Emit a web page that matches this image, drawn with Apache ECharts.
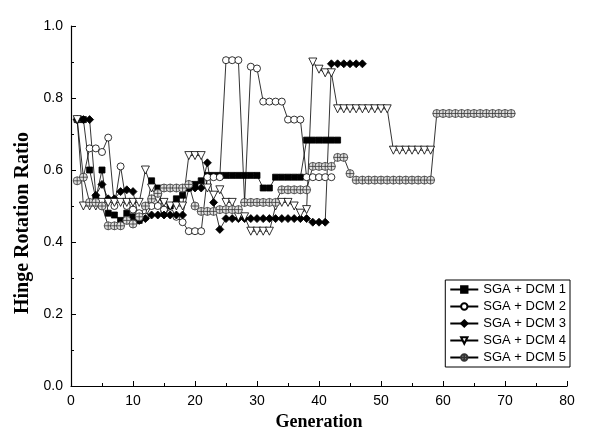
<!DOCTYPE html>
<html>
<head>
<meta charset="utf-8">
<script src="https://cdn.jsdelivr.net/npm/echarts@6/dist/echarts.min.js"></script>
<style>
  html, body { margin: 0; padding: 0; background: #fff; }
  #chart { width: 592px; height: 441px; }
</style>
</head>
<body>
<div id="chart"></div>
<script>
// series names (legend)
var names = ["SGA + DCM 1", "SGA + DCM 2", "SGA + DCM 3", "SGA + DCM 4", "SGA + DCM 5"];

// hinge rotation ratio per generation, generation 1..N
var dcm1 = [0.74, 0.74, 0.60, 0.52, 0.60, 0.48, 0.475, 0.46, 0.48, 0.47,
  0.46, 0.47, 0.57, 0.55, 0.48, 0.50, 0.52, 0.53, 0.55, 0.56,
  0.57, 0.585, 0.585, 0.585, 0.585, 0.585, 0.585, 0.585, 0.585, 0.585,
  0.55, 0.55, 0.58, 0.58, 0.58, 0.58, 0.58, 0.683, 0.683, 0.683,
  0.683, 0.683, 0.683];
var dcm2 = [0.74, 0.58, 0.66, 0.66, 0.65, 0.69, 0.50, 0.61, 0.50, 0.49,
  0.48, 0.47, 0.50, 0.50, 0.49, 0.48, 0.47, 0.455, 0.43, 0.43,
  0.43, 0.58, 0.58, 0.58, 0.905, 0.905, 0.905, 0.51, 0.887, 0.882,
  0.79, 0.79, 0.79, 0.79, 0.74, 0.74, 0.74, 0.58, 0.58, 0.58,
  0.58, 0.58];
var dcm3 = [0.74, 0.74, 0.74, 0.53, 0.56, 0.52, 0.52, 0.54, 0.545, 0.54,
  0.46, 0.465, 0.475, 0.475, 0.475, 0.475, 0.475, 0.475, 0.55, 0.55,
  0.55, 0.62, 0.51, 0.435, 0.465, 0.465, 0.465, 0.465, 0.465, 0.465,
  0.465, 0.465, 0.465, 0.465, 0.465, 0.465, 0.465, 0.465, 0.455, 0.455,
  0.455, 0.895, 0.895, 0.895, 0.895, 0.895, 0.895];
var dcm4 = [0.74, 0.50, 0.50, 0.50, 0.51, 0.51, 0.51, 0.51, 0.51, 0.51,
  0.51, 0.60, 0.55, 0.52, 0.51, 0.50, 0.50, 0.50, 0.64, 0.64,
  0.64, 0.55, 0.53, 0.545, 0.51, 0.51, 0.47, 0.47, 0.43, 0.43,
  0.43, 0.43, 0.50, 0.51, 0.51, 0.50, 0.48, 0.49, 0.90, 0.88,
  0.87, 0.87, 0.77, 0.77, 0.77, 0.77, 0.77, 0.77, 0.77, 0.77,
  0.77, 0.655, 0.655, 0.655, 0.655, 0.655, 0.655, 0.655];
var dcm5 = [0.57, 0.58, 0.51, 0.51, 0.50, 0.445, 0.445, 0.445, 0.46, 0.45,
  0.47, 0.50, 0.52, 0.535, 0.55, 0.55, 0.55, 0.55, 0.56, 0.50,
  0.485, 0.485, 0.485, 0.49, 0.49, 0.49, 0.49, 0.51, 0.51, 0.51,
  0.51, 0.51, 0.51, 0.545, 0.545, 0.545, 0.545, 0.545, 0.61, 0.61,
  0.61, 0.61, 0.635, 0.635, 0.59, 0.572, 0.572, 0.572, 0.572, 0.572,
  0.572, 0.572, 0.572, 0.572, 0.572, 0.572, 0.572, 0.572, 0.757, 0.757,
  0.757, 0.757, 0.757, 0.757, 0.757, 0.757, 0.757, 0.757, 0.757, 0.757,
  0.757];

var xTicks = [0, 10, 20, 30, 40, 50, 60, 70, 80];
var yTicks = [0.0, 0.2, 0.4, 0.6, 0.8, 1.0];

// [generation, value] pairs
function toPairs(arr) {
  return arr.map(function (v, i) { return [i + 1, v]; });
}

var crossCircle = "path://M5,0A5,5,0,1,1,-5,0A5,5,0,1,1,5,0ZM0,-5L0,5M-5,0L5,0";

var chart = echarts.init(document.getElementById("chart"), null, { renderer: "canvas" });

function lineSeries(name, data, symbol, size, fill, stroke, extra) {
  var s = {
    name: name,
    type: "line",
    data: toPairs(data),
    symbol: symbol,
    symbolSize: size,
    showAllSymbol: true,
    lineStyle: { color: "#000", width: 0.8 },
    itemStyle: { color: fill, borderColor: stroke, borderWidth: 0.8 },
    emphasis: { disabled: true },
    z: 2
  };
  for (var k in extra) s[k] = extra[k];
  return s;
}

var option = {
  animation: false,
  backgroundColor: "#fff",
  grid: { left: 71, right: 25, top: 26, bottom: 55 },
  xAxis: {
    type: "value",
    min: xTicks[0],
    max: xTicks[xTicks.length - 1],
    interval: 10,
    name: "Generation",
    nameLocation: "middle",
    nameGap: 26,
    nameTextStyle: { fontFamily: "Liberation Serif", fontWeight: "bold", fontSize: 18, color: "#000" },
    axisLine: { lineStyle: { color: "#000", width: 1.2 } },
    axisTick: { inside: true, length: 5, lineStyle: { color: "#000" } },
    minorTick: { show: true, splitNumber: 2, length: 3, lineStyle: { color: "#000" } },
    axisLabel: { fontFamily: "Liberation Sans", fontSize: 14, color: "#000", margin: 8 },
    splitLine: { show: false }
  },
  yAxis: {
    type: "value",
    min: yTicks[0],
    max: yTicks[yTicks.length - 1],
    interval: 0.2,
    name: "Hinge Rotation Ratio",
    nameLocation: "middle",
    nameGap: 36,
    nameTextStyle: {
      fontFamily: "Liberation Serif", fontWeight: "bold", fontSize: 20, color: "#000",
      padding: [0, 34, 0, 0]
    },
    axisLine: { show: true, lineStyle: { color: "#000", width: 1.2 } },
    axisTick: { show: true, inside: true, length: 5, lineStyle: { color: "#000" } },
    minorTick: { show: true, splitNumber: 2, length: 3, lineStyle: { color: "#000" } },
    axisLabel: {
      fontFamily: "Liberation Sans", fontSize: 14, color: "#000", margin: 8,
      formatter: function (v) { return v.toFixed(1); }
    },
    splitLine: { show: false }
  },
  legend: {
    orient: "vertical",
    right: 22,
    top: 280,
    itemWidth: 28,
    itemHeight: 8,
    itemGap: 4,
    padding: [3, 4, 3, 4],
    borderColor: "#000",
    borderWidth: 1,
    borderRadius: 0,
    backgroundColor: "#fff",
    textStyle: { fontFamily: "Liberation Sans", fontSize: 13, color: "#000", lineHeight: 13 },
    data: names
  },
  series: [
    lineSeries(names[0], dcm1, "rect", 6, "#000", "#000", {}),
    lineSeries(names[1], dcm2, "circle", 7, "#fff", "#000", {}),
    lineSeries(names[2], dcm3, "diamond", 8, "#000", "#000", {}),
    lineSeries(names[3], dcm4, "triangle", 8, "#fff", "#000", { symbolRotate: 180 }),
    lineSeries(names[4], dcm5, crossCircle, 8, "#e0e0e0", "#333", {})
  ]
};

chart.setOption(option);
</script>
</body>
</html>
